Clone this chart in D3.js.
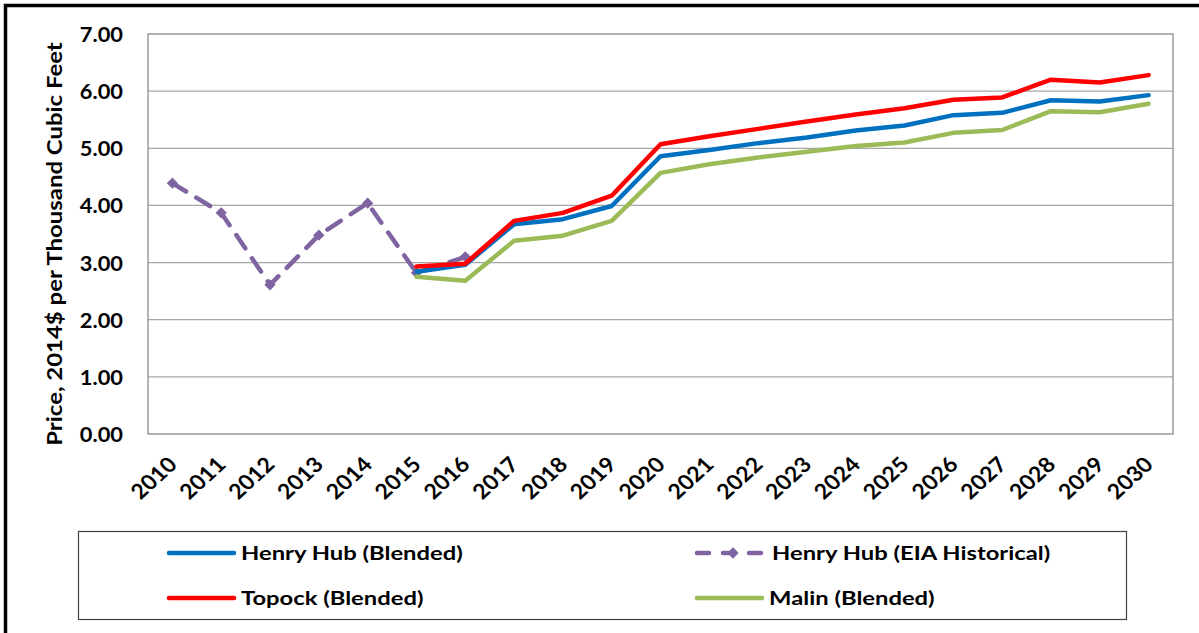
<!DOCTYPE html>
<html>
<head>
<meta charset="utf-8">
<script src="https://cdn.jsdelivr.net/npm/d3@7"></script>
<style>
html,body{margin:0;padding:0;background:#fff;}
svg{display:block;}
text{font-family:Lato,"Open Sans",sans-serif;font-weight:bold;fill:#000;}
</style>
</head>
<body>
<svg id="chart" width="1199" height="633"></svg>
<script>
const years = ["2010","2011","2012","2013","2014","2015","2016","2017","2018","2019","2020",
  "2021","2022","2023","2024","2025","2026","2027","2028","2029","2030"];
const yTicks = [0,1,2,3,4,5,6,7];
const henryHistorical = [4.39,3.87,2.61,3.48,4.04,2.82,3.10,null,null,null,null,null,null,null,null,null,null,null,null,null,null];
const henryBlended = [null,null,null,null,null,2.84,2.96,3.67,3.76,3.99,4.86,4.97,5.09,5.19,5.31,5.40,5.58,5.62,5.84,5.82,5.93];
const topockBlended = [null,null,null,null,null,2.93,2.98,3.73,3.87,4.17,5.07,5.21,5.34,5.47,5.59,5.70,5.85,5.89,6.20,6.15,6.28];
const malinBlended = [null,null,null,null,null,2.75,2.68,3.38,3.47,3.73,4.57,4.72,4.84,4.94,5.04,5.10,5.27,5.32,5.65,5.63,5.78];
const legendLabels = ["Henry Hub (Blended)","Henry Hub (EIA Historical)","Topock (Blended)","Malin (Blended)"];
const yTitle = "Price, 2014$ per Thousand Cubic Feet";

const svg = d3.select("#chart");
const W = 1199, H = 633;
const plot = {l:148, t:34, r:1173, b:434};

// outer frame
svg.append("path").attr("d", `M5.5,${H+5} V5.5 H${W+5}`).attr("fill","none").attr("stroke","#000").attr("stroke-width",3.5);

const x = d3.scaleBand().domain(years).range([plot.l, plot.r]);
const xc = d => x(d) + x.bandwidth()/2;
const y = d3.scaleLinear().domain([0,7]).range([plot.b, plot.t]);

// gridlines
svg.append("g").selectAll("line").data(yTicks.filter(v=>v>0 && v<7)).join("line")
  .attr("x1",plot.l).attr("x2",plot.r).attr("y1",d=>y(d)).attr("y2",d=>y(d))
  .attr("stroke","#a6a6a6").attr("stroke-width",1.3);
// plot border
svg.append("rect").attr("x",plot.l).attr("y",plot.t).attr("width",plot.r-plot.l).attr("height",plot.b-plot.t)
  .attr("fill","none").attr("stroke","#8c8c8c").attr("stroke-width",1.3);

// y axis
const yAxis = d3.axisLeft(y).tickValues(yTicks).tickFormat(d3.format(".2f")).tickSize(0).tickPadding(25);
const gy = svg.append("g").attr("transform",`translate(${plot.l},0)`).call(yAxis);
gy.select(".domain").remove();
gy.selectAll("text").style("font-size","21px").attr("dy","0.36em").attr("x",0)
  .attr("transform","translate(-25,0) scale(1.04,1)");

// x axis
const xAxis = d3.axisBottom(x).tickSize(0).tickPadding(0);
const gx = svg.append("g").attr("transform",`translate(0,${plot.b})`).call(xAxis);
gx.select(".domain").remove();
gx.selectAll("text").style("font-size","21px").attr("text-anchor","end")
  .attr("dy",0).attr("y",0)
  .attr("transform","translate(6,32) scale(1.1,1) rotate(-45)");

// y title
svg.append("text").attr("transform",`translate(62,${(plot.t+plot.b)/2+10}) rotate(-90) scale(1.14,1)`)
  .attr("text-anchor","middle").style("font-size","21px").text(yTitle);

// lines
const line = d3.line().defined(d=>d.v!=null).x(d=>xc(d.k)).y(d=>y(d.v));
const mk = arr => years.map((k,i)=>({k, v:arr[i]}));

svg.append("path").datum(mk(henryHistorical)).attr("d",line).attr("fill","none")
  .attr("stroke","#8064A2").attr("stroke-width",4.5).attr("stroke-dasharray","16,12").attr("stroke-linecap","round");
svg.append("g").selectAll("path").data(mk(henryHistorical).filter(d=>d.v!=null)).join("path")
  .attr("d", d3.symbol().type(d3.symbolSquare).size(64))
  .attr("transform",d=>`translate(${xc(d.k)},${y(d.v)}) rotate(45)`).attr("fill","#8064A2");

const series = [
  {arr:malinBlended, c:"#9BBB59"},
  {arr:henryBlended, c:"#0070C0"},
  {arr:topockBlended, c:"#FF0000"}
];
series.forEach(s=>{
  svg.append("path").datum(mk(s.arr)).attr("d",line).attr("fill","none")
    .attr("stroke",s.c).attr("stroke-width",4.5).attr("stroke-linejoin","round").attr("stroke-linecap","round");
});

// legend
const lg = svg.append("g");
lg.append("rect").attr("x",78.5).attr("y",531.5).attr("width",1048).attr("height",88)
  .attr("fill","#fff").attr("stroke","#404040").attr("stroke-width",1.2);
const items = [
  {t:legendLabels[0], c:"#0070C0", x:167, y:553, dash:false},
  {t:legendLabels[1], c:"#8064A2", x:695, y:553, dash:true},
  {t:legendLabels[2], c:"#FF0000", x:167, y:598, dash:false},
  {t:legendLabels[3], c:"#9BBB59", x:695, y:598, dash:false}
];
items.forEach(it=>{
  const g = lg.append("g");
  let tx;
  if(it.dash){
    g.append("line").attr("x1",it.x+2).attr("x2",it.x+68).attr("y1",it.y).attr("y2",it.y)
      .attr("stroke",it.c).attr("stroke-width",4.5).attr("stroke-dasharray","12,14").attr("stroke-linecap","round");
    g.append("path").attr("d", d3.symbol().type(d3.symbolSquare).size(64))
      .attr("transform",`translate(${it.x+38},${it.y}) rotate(45)`).attr("fill",it.c);
    tx = it.x+77;
  } else {
    g.append("line").attr("x1",it.x+2).attr("x2",it.x+67).attr("y1",it.y).attr("y2",it.y)
      .attr("stroke",it.c).attr("stroke-width",4.5).attr("stroke-linecap","round");
    tx = it.x+74;
  }
  g.append("text").attr("transform",`translate(${tx},${it.y}) scale(1.22,1)`)
    .attr("dy","0.36em").style("font-size","19.5px").text(it.t);
});
</script>
</body>
</html>
